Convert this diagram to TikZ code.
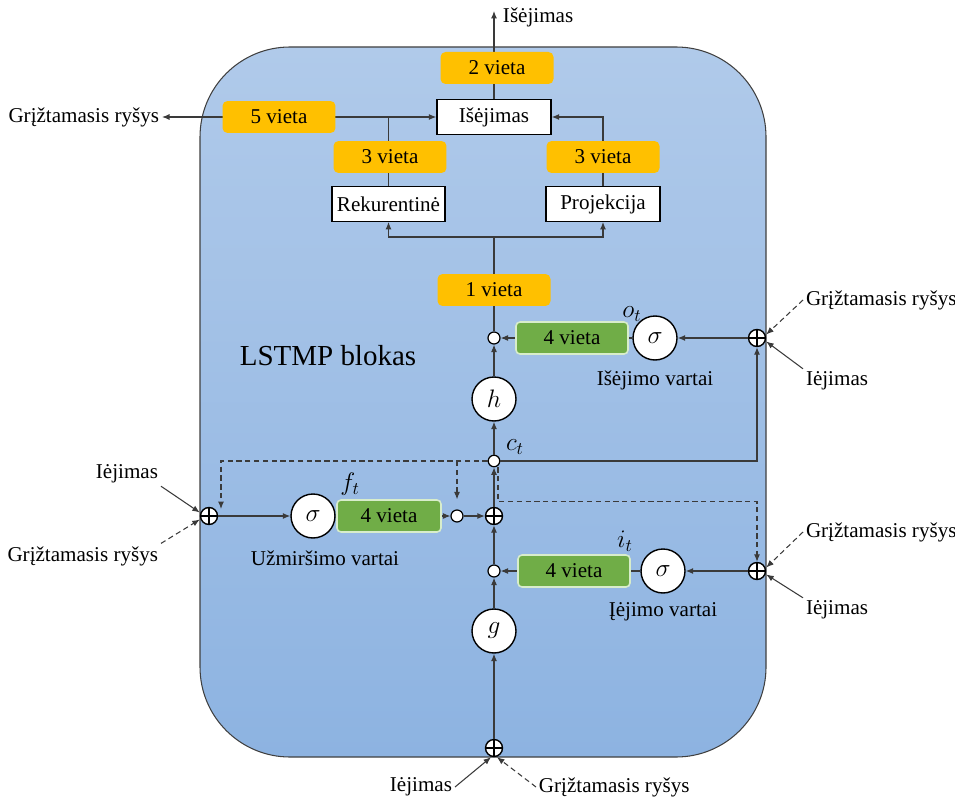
\documentclass[tikz,border=0pt]{standalone}
\usepackage{fontspec}
\setmainfont{Liberation Serif}
\usetikzlibrary{arrows.meta,calc}

\definecolor{blkTop}{HTML}{B0CAEA}
\definecolor{blkBot}{HTML}{8DB3E1}
\definecolor{orng}{HTML}{FFC000}
\definecolor{grn}{HTML}{70AD47}
\definecolor{grnEdge}{HTML}{D8EDCB}
\definecolor{wire}{HTML}{3A3A3A}

\tikzset{
  wireline/.style={draw=wire, line width=0.6pt},
  conn/.style={wireline, -{Latex[length=0.15cm,width=0.12cm]}},
  dconn/.style={conn, dash pattern=on 3pt off 2pt},
  txt/.style={font=\fontsize{12}{14}\selectfont},
  lbl/.style={txt, inner sep=1.5pt},
  mlbl/.style={font=\fontsize{14}{16}\selectfont, inner sep=0pt},
  vieta/.style={txt, fill=orng, rounded corners=0.1cm, minimum width=2.26cm,
    minimum height=0.64cm, inner sep=0pt},
  gate/.style={txt, fill=grn, draw=grnEdge, line width=0.9pt, rounded corners=0.08cm,
    minimum height=0.64cm, inner sep=0pt},
  wbox/.style={txt, draw=black, fill=white, line width=0.8pt, minimum width=2.28cm,
    minimum height=0.69cm, inner sep=0pt},
  act/.style={circle, draw=black, fill=white, line width=0.8pt, minimum size=0.88cm,
    inner sep=0pt, font=\fontsize{14}{16}\selectfont},
  sumnode/.style={circle, draw=black, fill=white, line width=0.8pt, minimum size=0.34cm,
    inner sep=0pt, path picture={
      \draw[line width=0.8pt] (path picture bounding box.west) -- (path picture bounding box.east)
        (path picture bounding box.north) -- (path picture bounding box.south);}},
  mulnode/.style={circle, draw=black, fill=white, line width=0.7pt, minimum size=0.24cm,
    inner sep=0pt, path picture={\fill (path picture bounding box.center) circle (0.03cm);}},
  junction/.style={circle, draw=black, fill=white, line width=0.7pt, minimum size=0.23cm,
    inner sep=0pt},
}

\begin{document}
\begin{tikzpicture}[x=0.02cm,y=-0.02cm]
\useasboundingbox (0,0) rectangle (955,800);

% block body
\shadedraw[top color=blkTop, bottom color=blkBot, draw=black!75, line width=0.6pt,
  rounded corners=1.8cm] (200,47) rectangle (766,757);

% output stage
\node[wbox] (isej) at (494,117) {Išėjimas};
\node[wbox, minimum width=2.26cm] (rek) at (388.5,204) {Rekurentinė};
\node[wbox] (proj) at (603,204) {Projekcija};
\node[lbl, anchor=west] (outtxt) at (500,17) {Išėjimas};
\coordinate (outtip) at (494,11);
\node[lbl, anchor=east] (fbtxt) at (162,117) {Grįžtamasis ryšys};

% cell nodes
\node[mulnode] (odO) at (494,338) {};
\node[act] (sigO) at (655,338) {$\sigma$};
\node[sumnode] (plusO) at (757,338) {};
\node[act] (h) at (494,399) {$h$};
\node[junction] (ct) at (494,461) {};
\node[sumnode] (plusF) at (209,516) {};
\node[act] (sigF) at (313,516) {$\sigma$};
\node[mulnode] (odF) at (457,516) {};
\node[sumnode] (plusC) at (494,516) {};
\node[mulnode] (odI) at (494,571) {};
\node[act] (sigI) at (663,571) {$\sigma$};
\node[sumnode] (plusI) at (757,571) {};
\node[act] (g) at (494,631) {$g$};
\node[sumnode] (plusB) at (494,748) {};
\coordinate (split) at (494,237);
\coordinate (fpeep) at (221,509);

% wiring of the output stage
\draw[wireline] (odO) -- (split);
\draw[conn] (split) -| (rek);
\draw[conn] (split) -| (proj);
\draw[conn] (rek) |- (isej);
\draw[conn] (rek.north |- isej.west) -- (fbtxt.east);
\draw[conn] (proj) |- (isej);
\draw[conn] (isej) -- (outtip);

% output gate
\draw[conn] (plusO) -- (sigO);
\draw[conn] (sigO) -- (odO);
\draw[conn] (h) -- (odO);
\draw[conn] (ct) -- (h);
\draw[conn] (ct) -| (plusO);

% forget gate
\draw[conn] (plusF) -- (sigF);
\draw[conn] (sigF) -- (odF);
\draw[conn] (odF) -- (plusC);
\draw[conn] (plusC) -- (ct);
\draw[dconn] (ct) -| (fpeep);
\draw[dconn, shorten >=0.2cm] (ct -| odF) -- (odF);

% input gate
\draw[dconn] ([xshift=0.08cm]ct.south) -- ++(0,34) -| (plusI);
\draw[conn] (plusI) -- (sigI);
\draw[conn] (sigI) -- (odI);
\draw[conn] (odI) -- (plusC);
\draw[conn] (g) -- (odI);
\draw[conn] (plusB) -- (g);

% gate weights
\node[gate, minimum width=2.24cm] at (572,338) {4 vieta};
\node[gate, minimum width=2.08cm] at (389,516) {4 vieta};
\node[gate, minimum width=2.24cm] at (574,571) {4 vieta};

% positions
\node[vieta] at (497,68) {2 vieta};
\node[vieta] at (279,117) {5 vieta};
\node[vieta] at (390,157) {3 vieta};
\node[vieta] at (603,157) {3 vieta};
\node[vieta] at (494,290) {1 vieta};

% symbols and captions
\node[mlbl] at (632,314) {$o_t$};
\node[mlbl] at (350,484) {$f_t$};
\node[mlbl] at (625,541) {$i_t$};
\node[mlbl] at (515,447) {$c_t$};
\node[lbl] at (655,380) {Išėjimo vartai};
\node[lbl] at (325,558) {Užmiršimo vartai};
\node[lbl] at (663,612) {Įėjimo vartai};
\node[font=\fontsize{16.5}{19}\selectfont] at (328,356) {LSTMP blokas};

% external inputs: output gate
\node[lbl, anchor=west] (fbO) at (803,300) {Grįžtamasis ryšys};
\node[lbl, anchor=west] (inO) at (803,381) {Iėjimas};
\draw[dconn] (fbO.west) -- ([yshift=0.07cm]plusO.east);
\draw[conn] (inO.north west) -- ([yshift=-0.07cm]plusO.east);

% external inputs: input gate
\node[lbl, anchor=west] (fbI) at (803,532) {Grįžtamasis ryšys};
\node[lbl, anchor=west] (inI) at (803,610) {Iėjimas};
\draw[dconn] (fbI.west) -- ([yshift=0.07cm]plusI.east);
\draw[conn] (inI.north west) -- ([yshift=-0.07cm]plusI.east);

% external inputs: forget gate
\node[lbl, anchor=east] (inF) at (161,474) {Iėjimas};
\node[lbl, anchor=east] (fbF) at (161,556) {Grįžtamasis ryšys};
\draw[conn] (inF.south east) -- ([yshift=0.07cm]plusF.west);
\draw[dconn] (fbF.north east) -- ([yshift=-0.07cm]plusF.west);

% external inputs: candidate
\node[lbl, anchor=east] (inB) at (455,787) {Iėjimas};
\node[lbl, anchor=west] (fbB) at (536,787) {Grįžtamasis ryšys};
\draw[conn] (inB.east) -- ([xshift=-0.06cm]plusB.south);
\draw[dconn] (fbB.west) -- ([xshift=0.06cm]plusB.south);
\end{tikzpicture}
\end{document}
